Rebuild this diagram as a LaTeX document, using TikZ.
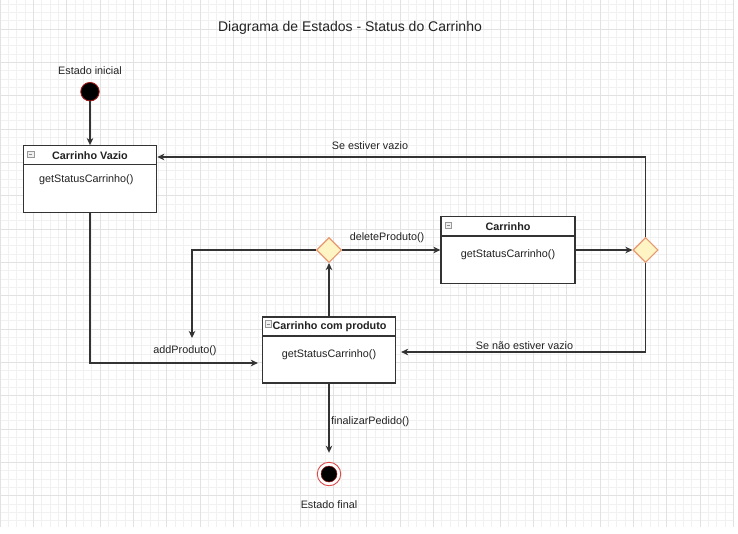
\documentclass[tikz,border=0pt]{standalone}
\usepackage{fontspec}
\setmainfont{Liberation Sans}
\usetikzlibrary{arrows.meta,shapes.geometric}
\definecolor{ink}{HTML}{333333}
\definecolor{txt}{HTML}{222222}
\definecolor{dfill}{HTML}{FFF4C3}
\definecolor{dstroke}{HTML}{E89870}
\definecolor{gminor}{HTML}{F1F1F1}
\definecolor{gmajor}{HTML}{E2E2E2}
\definecolor{initred}{HTML}{9E1B1B}
\definecolor{finred}{HTML}{E04848}
\tikzset{
  lbl/.style={font=\fontsize{10.8}{13}\selectfont, text=txt, inner sep=0pt},
  hdr/.style={font=\fontsize{10.8}{13}\selectfont\bfseries, text=txt, inner sep=0pt},
  statebox/.style={draw=ink, line width=1.2pt, fill=white, rectangle, inner sep=0pt},
  decision/.style={diamond, aspect=1, draw=dstroke, fill=dfill, line width=1.1pt, minimum width=25pt, minimum height=25pt, inner sep=0pt},
  arr/.style={draw=ink, line width=1.2pt, -{Stealth[length=7pt,width=6.5pt,inset=2pt]}},
  ln/.style={draw=ink, line width=1.2pt},
  icon/.style={draw=gray!80, fill=gray!12, rectangle, minimum size=6.5pt, inner sep=0pt, line width=0.5pt},
}
\begin{document}
\begin{tikzpicture}[x=1pt,y=-1pt]
\useasboundingbox (0,0) rectangle (738,533);
\fill[white] (0,0) rectangle (738,533);
% grid
\foreach \i in {0,...,88} \draw[gminor, line width=0.5pt] ({\i*8.3333},0) -- ({\i*8.3333},527);
\foreach \k in {-3,...,59} \draw[gminor, line width=0.5pt] (0,{29+\k*8.3333}) -- (733.3,{29+\k*8.3333});
\foreach \i in {0,...,22} \draw[gmajor, line width=0.6pt] ({\i*33.3333},0) -- ({\i*33.3333},527);
\foreach \k in {0,...,14} \draw[gmajor, line width=0.6pt] (0,{29+\k*33.3333}) -- (733.3,{29+\k*33.3333});

% title
\node[font=\fontsize{14}{16}\selectfont, text=txt, inner sep=0pt] (title) at (350,28) {Diagrama de Estados - Status do Carrinho};

% initial state
\node[lbl] (initlbl) at (90,71) {Estado inicial};
\node[circle, fill=black, draw=initred, line width=0.9pt, minimum size=18.5pt, inner sep=0pt] (init) at (90,91.7) {};

% Carrinho Vazio
\node[statebox, minimum width=133.4pt, minimum height=66.6pt] (vazio) at (90,179) {};
\draw[ln] (23.3,164.7) -- (156.7,164.7);
\node[hdr] (vazioH) at (90,155.5) {Carrinho Vazio};
\node[lbl, anchor=west] (vazioB) at (39,180) {getStatusCarrinho()};
\node[icon] (vazioI) at (30.5,154) {};
\draw[gray!90, line width=0.6pt] (28.7,154) -- (32.3,154);

% Carrinho com produto
\node[statebox, minimum width=133pt, minimum height=66pt] (comp) at (329,350) {};
\draw[ln] (262.5,336) -- (395.5,336);
\node[hdr] (compH) at (329.5,326.5) {Carrinho com produto};
\node[lbl] (compB) at (329,355) {getStatusCarrinho()};
\node[icon] (compI) at (268.3,323.8) {};
\draw[gray!90, line width=0.6pt] (266.5,323.8) -- (270.1,323.8);

% Carrinho
\node[statebox, minimum width=134pt, minimum height=67pt] (car) at (508,250) {};
\draw[ln] (441,236) -- (575,236);
\node[hdr] (carH) at (508,226.5) {Carrinho};
\node[lbl] (carB) at (508,254.5) {getStatusCarrinho()};
\node[icon] (carI) at (448.3,225) {};
\draw[gray!90, line width=0.6pt] (446.5,225) -- (450.1,225);

% decisions
\node[decision] (d1) at (329,250) {};
\node[decision] (d2) at (645.5,250) {};

% final state
\node[circle, draw=finred, fill=white, line width=0.9pt, minimum size=23.5pt, inner sep=0pt] (fin) at (329,474) {};
\node[circle, fill=black, draw=initred, line width=0.5pt, minimum size=16pt, inner sep=0pt] (finIn) at (329,474) {};
\node[lbl] (finlbl) at (329,505) {Estado final};

% coordinates
\coordinate (c1) at (90,363);
\coordinate (c2) at (192,250);
\coordinate (c3) at (192,338);
\coordinate (c4) at (645.5,157);
\coordinate (c5) at (645.5,352);

% connectors
\draw[arr] (init) -- (vazio);
\draw[arr, shorten >=4pt] (vazio.south) -- (c1) -- (c1 -| comp.west);
\draw[arr] (comp.north) -- (d1.south);
\draw[arr] (d1.west) -- (c2) -- (c3);
\draw[arr] (d1.east) -- (car.west);
\draw[arr] (car.east) -- (d2.west);
\draw[arr] (d2.north) -- (c4) -- (c4 -| vazio.east);
\draw[arr, shorten >=5pt] (d2.south) -- (c5) -- (c5 -| comp.east);
\draw[arr, shorten >=9pt] (comp.south) -- (fin.north);

% labels
\node[lbl] (lvazio) at (370,146) {Se estiver vazio};
\node[lbl] (ladd) at (185,351) {addProduto()};
\node[lbl] (ldel) at (387,238) {deleteProduto()};
\node[lbl] (lnvazio) at (524.5,346) {Se não estiver vazio};
\node[lbl, anchor=west] (lfin) at (331,421.7) {finalizarPedido()};
\end{tikzpicture}
\end{document}
